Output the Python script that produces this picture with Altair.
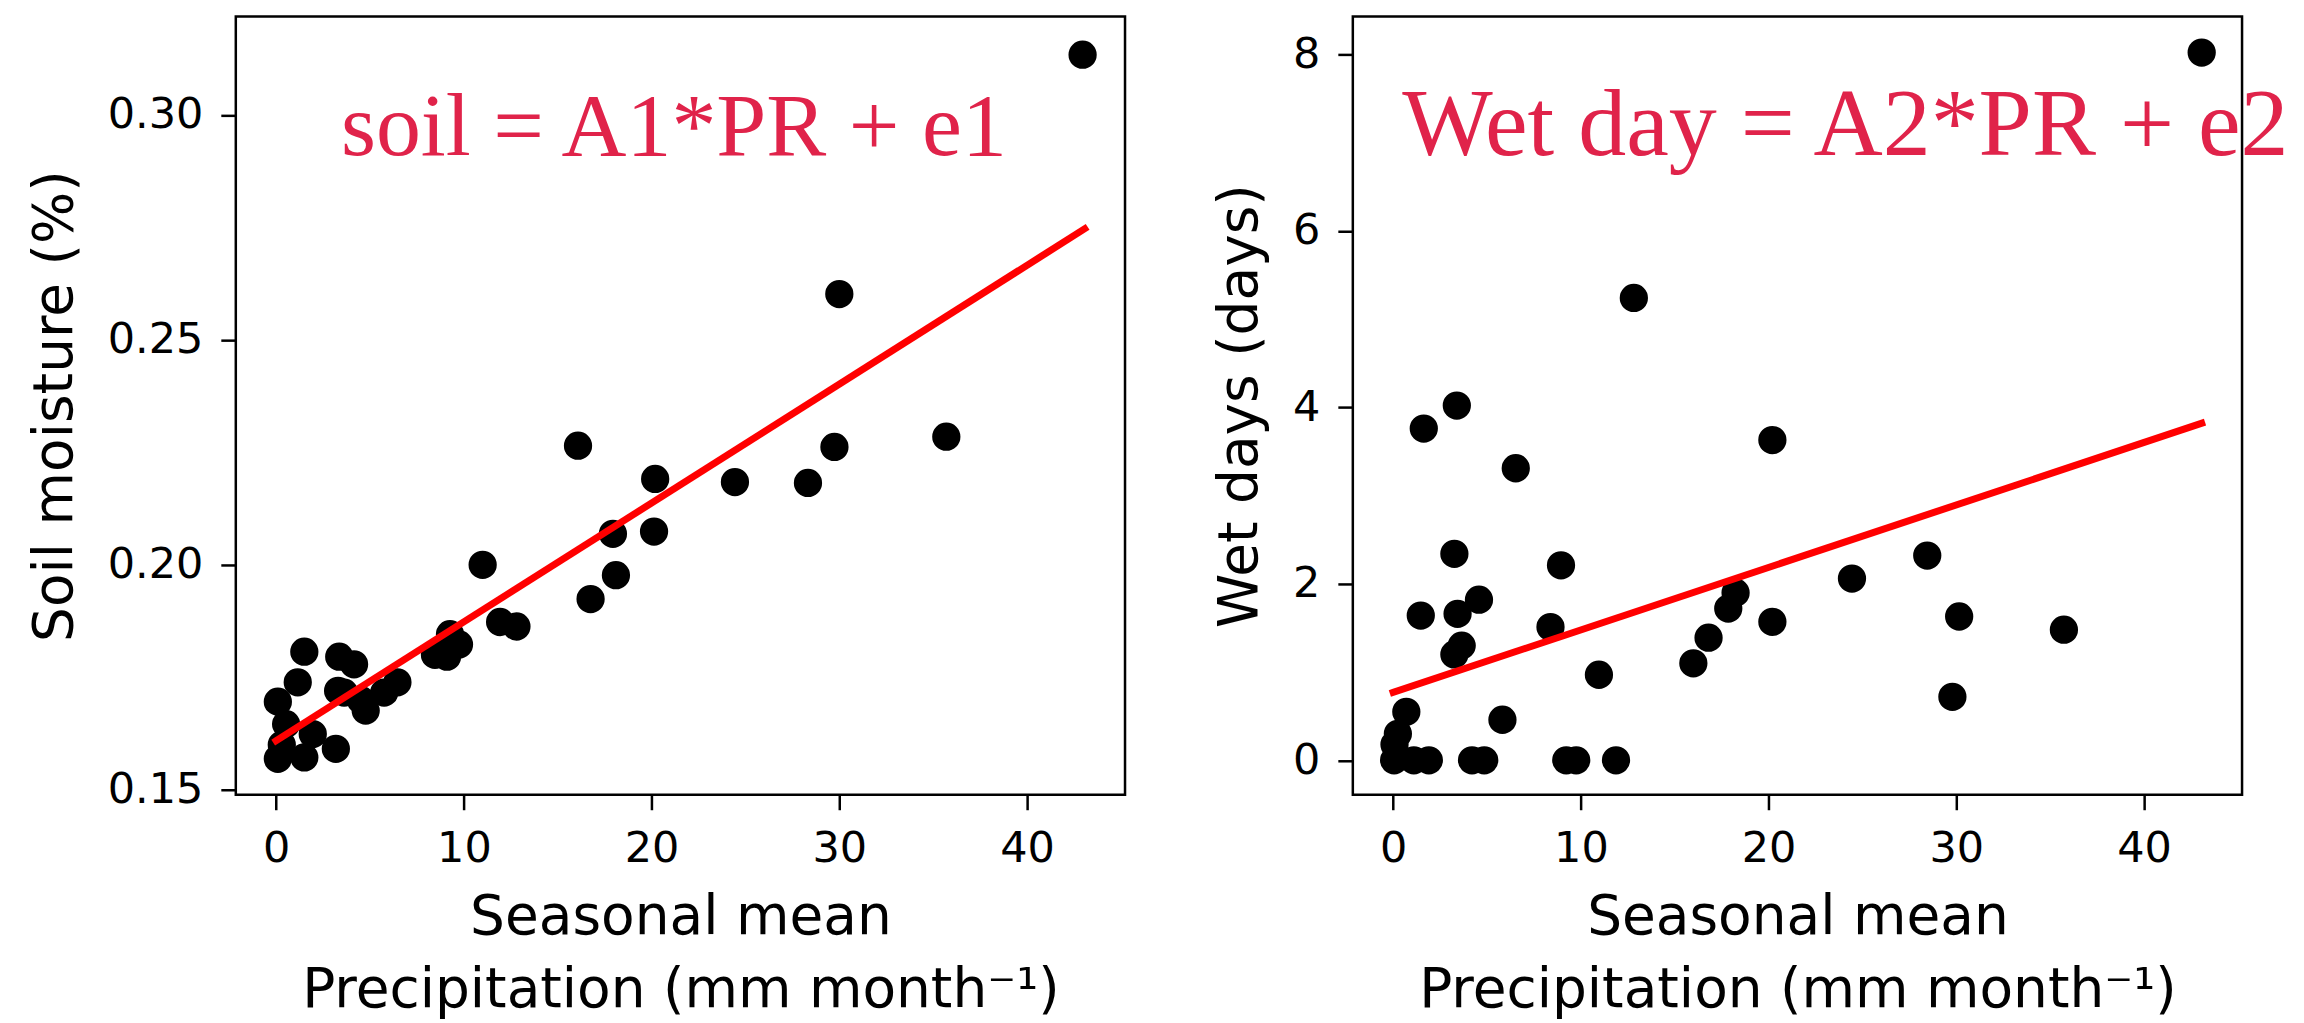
import altair as alt
import pandas as pd

# ---- data ----
soil_pr = [42.96, 30.0, 35.7, 29.74, 16.08, 20.19, 24.44, 28.33, 17.94, 20.13,
           11.0, 18.1, 16.75, 11.93, 12.8, 8.46, 9.1, 9.26, 9.74, 1.50,
           3.36, 4.15, 1.15, 0.09, 3.62, 4.77, 5.75, 6.46, 0.53, 1.95,
           0.09, 1.50, 3.18, 0.30, 3.30, 4.50]
soil_val = [0.3134, 0.2602, 0.2285, 0.2262, 0.2265, 0.2191, 0.2184, 0.2182, 0.2069, 0.2074,
            0.2000, 0.1977, 0.1924, 0.1873, 0.1863, 0.1800, 0.1796, 0.1846, 0.1823, 0.1807,
            0.1796, 0.1779, 0.1739, 0.1696, 0.1716, 0.1676, 0.1716, 0.1739, 0.1646, 0.1624,
            0.1569, 0.1572, 0.1591, 0.1600, 0.1720, 0.1700]

wet_pr = [43.07, 12.82, 3.39, 1.63, 20.2, 6.53, 3.26, 28.45, 8.94, 24.44,
          18.24, 17.85, 4.57, 1.47, 3.43, 30.15, 20.2, 8.38, 35.73, 16.8,
          3.65, 3.26, 15.99, 10.96, 29.79, 0.70, 5.82, 0.25, 0.07, 0.05,
          1.10, 1.90, 4.20, 4.85, 9.22, 9.75, 11.87]
wet_val = [8.02, 5.24, 4.02, 3.76, 3.63, 3.31, 2.34, 2.32, 2.21, 2.06,
           1.90, 1.72, 1.82, 1.64, 1.66, 1.63, 1.57, 1.51, 1.48, 1.39,
           1.30, 1.20, 1.10, 0.97, 0.72, 0.55, 0.46, 0.30, 0.18, 0.0,
           0.0, 0.0, 0.0, 0.0, 0.0, 0.0, 0.0]

fit_pr = [0.0, 43.07]
soil_fit = [0.1609, 0.2747]
wet_fit = [0.77, 3.82]

x_ticks = [0, 10, 20, 30, 40]
soil_ticks = [0.15, 0.20, 0.25, 0.30]
wet_ticks = [0, 2, 4, 6, 8]
x_title = ["Seasonal mean", "Precipitation (mm month\u207b\u00b9)"]
soil_title = "Soil moisture (%)"
wet_title = "Wet days (days)"
soil_eq = "soil = A1*PR + e1"
wet_eq = "Wet day = A2*PR + e2"

x_domain = [-2.15, 45.22]
soil_domain = [0.1489, 0.3219]
wet_domain = [-0.39, 8.43]

W, H = 890, 779


def panel(pr, vals, fit, ydomain, yticks, yfmt, ytitle, ytp, eq, eq_x, eq_y, eq_size):
    df = pd.DataFrame({"pr": pr, "v": vals})
    fdf = pd.DataFrame({"pr": fit_pr, "v": fit})
    tdf = pd.DataFrame({"pr": [eq_x], "v": [eq_y], "t": [eq]})
    xenc = alt.X("pr:Q",
                 scale=alt.Scale(domain=x_domain, nice=False, zero=False),
                 axis=alt.Axis(values=x_ticks, title=x_title, format="d"))
    yenc = alt.Y("v:Q",
                 scale=alt.Scale(domain=ydomain, nice=False, zero=False),
                 axis=alt.Axis(values=yticks, title=ytitle, format=yfmt,
                               titlePadding=ytp))
    pts = alt.Chart(df).mark_circle(size=800, color="black", opacity=1).encode(x=xenc, y=yenc)
    line = alt.Chart(fdf).mark_line(color="#ff0000", strokeWidth=7, strokeCap="square").encode(
        x="pr:Q", y="v:Q")
    txt = alt.Chart(tdf).mark_text(align="left", baseline="alphabetic",
                                   font="Liberation Serif", fontSize=eq_size,
                                   color="#E0234A").encode(x="pr:Q", y="v:Q", text="t:N")
    return alt.layer(pts, line, txt).properties(width=W, height=H)


left = panel(soil_pr, soil_val, soil_fit, soil_domain, soil_ticks, ".2f",
             soil_title, 24, soil_eq, 3.45, 0.2910, 90)
right = panel(wet_pr, wet_val, wet_fit, wet_domain, wet_ticks, "d",
              wet_title, 24, wet_eq, 0.48, 6.86, 96)

chart = alt.hconcat(left, right, spacing=84).properties(
    padding={"left": 18, "top": 6, "right": 0, "bottom": 0}
).configure_axis(
    labelFont="DejaVu Sans", labelFontSize=43, labelColor="black",
    titleFont="DejaVu Sans", titleFontSize=55, titleFontWeight="normal",
    titleColor="black", tickSize=15, tickWidth=2.5, tickColor="black",
    domain=False, grid=False, labelPadding=18, titlePadding=20,
    titleLineHeight=73, labelFlush=False
).configure_view(stroke="black", strokeWidth=2.5)

chart.save("out.html", embed_options={"renderer": "svg", "actions": False})
